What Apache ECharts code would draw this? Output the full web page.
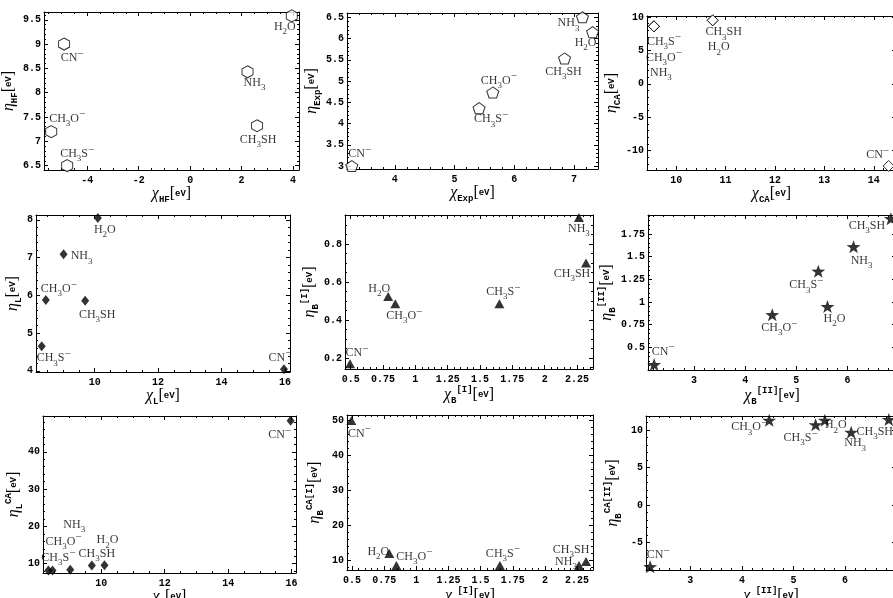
<!DOCTYPE html>
<html>
<head>
<meta charset="utf-8">
<script src="https://cdn.jsdelivr.net/npm/echarts@6/dist/echarts.min.js"></script>
<style>
html, body { margin: 0; padding: 0; background: #fff; }
#main { width: 893px; height: 598px; }
</style>
</head>
<body>
<div id="main"></div>
<script>
// order of the species in every array below
var species = ['CN-', 'CH3S-', 'CH3O-', 'NH3', 'H2O', 'CH3SH'];
var speciesLabel = ['CN{p|−}', 'CH{b|3}S{p|−}', 'CH{b|3}O{p|−}', 'NH{b|3}', 'H{b|2}O', 'CH{b|3}SH'];

var chiHF  = [-4.9, -4.78, -5.4, 2.23, 3.95, 2.6];
var etaHF  = [9.0, 6.5, 7.2, 8.43, 9.58, 7.32];
var chiExp = [3.28, 5.41, 5.64, 7.14, 7.31, 6.84];
var etaExp = [3.0, 4.36, 4.73, 6.5, 6.15, 5.53];
var chiCA  = [14.3, 9.55, 9.55, 9.55, 10.74, 10.74];
var etaCA  = [-12.3, 8.6, 8.6, 8.6, 9.5, 9.5];
var chiL   = [15.97, 8.33, 8.46, 9.02, 10.1, 9.7];
var etaL   = [4.04, 4.65, 5.88, 7.09, 8.05, 5.86];
var chiB1  = [0.495, 1.65, 0.845, 2.265, 0.79, 2.32];
var etaB1  = [0.17, 0.486, 0.486, 0.94, 0.524, 0.70];
var chiB2  = [2.22, 5.43, 4.53, 6.12, 5.61, 6.85];
var etaB2  = [0.31, 1.34, 0.86, 1.61, 0.95, 1.92];
var etaLCA  = [48.3, 8.2, 8.2, 8.4, 9.6, 9.5];
var etaB1CA = [50.0, 8.6, 8.6, 8.6, 12.0, 9.7];
var etaB2CA = [-8.2, 10.7, 11.3, 9.7, 11.3, 11.4];

// tick labels
var xTicksHF = [-4, -2, 0, 2, 4];
var yTicksHF = [6.5, 7, 7.5, 8, 8.5, 9, 9.5];
var xTicksExp = [4, 5, 6, 7];
var yTicksExp = [3, 3.5, 4, 4.5, 5, 5.5, 6, 6.5];
var xTicksCA = [10, 11, 12, 13, 14];
var yTicksCA = [-10, -5, 0, 5, 10];
var xTicksL = [10, 12, 14, 16];
var yTicksL = [4, 5, 6, 7, 8];
var xTicksB1 = [0.5, 0.75, 1, 1.25, 1.5, 1.75, 2, 2.25];
var yTicksB1 = [0.2, 0.4, 0.6, 0.8];
var xTicksB2 = [3, 4, 5, 6];
var yTicksB2 = [0.5, 0.75, 1, 1.25, 1.5, 1.75];
var yTicksLCA = [10, 20, 30, 40];
var yTicksB1CA = [10, 20, 30, 40, 50];
var yTicksB2CA = [-5, 0, 5, 10];

// label offsets (px from the marker), same species order
var offHF  = [[8, 14], [10, -12], [16, -13], [7, 11], [-7, 11], [1, 14]];
var offExp = [[8, -12], [12, 11], [6, -12], [-14, 6], [-7, 11], [-1, 13]];
var offCA  = [[-11, -11], [10, 15], [10, 31], [7, 46], [6, 27], [11, 12]];
var offL   = [[-4, -12], [12, 12], [13, -11], [18, 2], [7, 12], [12, 14]];
var offB1  = [[7, -11], [4, -12], [9, 12], [0, 11], [-9, -8], [-14, 11]];
var offB2  = [[9, -13], [-12, 14], [7, 13], [8, 14], [7, 12], [-24, 7]];
var offLCA = [[-11, 14], [10, -13], [11, -29], [4, -45], [3, -25], [5, -12]];
var offB1CA = [[8, 13], [3, -12], [18, -9], [-13, -4], [-11, -2], [-15, -12]];
var offB2CA = [[8, -12], [-15, 13], [-20, 7], [4, 11], [11, 5], [-14, 12]];

var hexagon = 'path://M6,0 L11.2,3 L11.2,9 L6,12 L0.8,9 L0.8,3 Z';
var pentagon = 'path://M10,0 L19.5,6.9 L15.9,18.1 L4.1,18.1 L0.5,6.9 Z';
var star = 'path://M10,0 L12.35,6.76 L19.51,6.91 L13.8,11.24 L15.88,18.09 L10,14 L4.12,18.09 L6.2,11.24 L0.49,6.91 L7.65,6.76 Z';

var open = { color: '#fff', borderColor: '#000', borderWidth: 1 };
var filled = { color: '#000' };

function axName(g, sub, sup) {
  return '{g|' + g + '}{s|' + sub + '}' + (sup ? '{u|' + sup + '}' : '') + '{k|[}{e|eV}{k|]}';
}

// yg = gap between frame and the rotated y title
var panels = [
  { box: [44, 12, 299, 170], x: chiHF, y: etaHF, xr: [-5.68, 4.23], yr: [6.41, 9.66], xt: xTicksHF, yt: yTicksHF, xm: 0.5, ym: 0.1,
    xn: axName('χ', 'HF'), yn: axName('η', 'HF'), yg: 18, sym: hexagon, size: [11, 12], st: open, off: offHF },
  { box: [347, 13, 598, 169], x: chiExp, y: etaExp, xr: [3.2, 7.4], yr: [2.93, 6.6], xt: xTicksExp, yt: yTicksExp, xm: 0.2, ym: 0.1,
    xn: axName('χ', 'Exp'), yn: axName('η', 'Exp'), yg: 19, sym: pentagon, size: [12, 11], st: open, off: offExp },
  { box: [647, 16, 896, 170], x: chiCA, y: etaCA, xr: [9.41, 14.45], yr: [-12.9, 10.15], xt: xTicksCA, yt: yTicksCA, xm: 0.2, ym: 1,
    xn: axName('χ', 'CA'), yn: axName('η', 'CA'), yg: 19, sym: 'diamond', size: [11, 11], st: open, off: offCA },
  { box: [36, 215, 290, 372], x: chiL, y: etaL, xr: [8.15, 16.16], yr: [3.97, 8.13], xt: xTicksL, yt: yTicksL, xm: 0.5, ym: 0.2,
    xn: axName('χ', 'L'), yn: axName('η', 'L'), yg: 11, sym: 'diamond', size: [8, 10], st: filled, off: offL },
  { box: [345, 215, 593, 369], x: chiB1, y: etaB1, xr: [0.456, 2.374], yr: [0.143, 0.953], xt: xTicksB1, yt: yTicksB1, xm: 0.05, ym: 0.05,
    xn: axName('χ', 'B', '[I]'), yn: axName('η', 'B', '[I]'), yg: 21, sym: 'triangle', size: [10, 9], st: filled, off: offB1 },
  { box: [648, 215, 896, 370], x: chiB2, y: etaB2, xr: [2.1, 6.95], yr: [0.25, 1.96], xt: xTicksB2, yt: yTicksB2, xm: 0.2, ym: 0.05,
    xn: axName('χ', 'B', '[II]'), yn: axName('η', 'B', '[II]'), yg: 25, sym: star, size: [14, 13], st: filled, off: offB2 },
  { box: [43, 416, 296, 573], x: chiL, y: etaLCA, xr: [8.16, 16.14], yr: [7.5, 49.6], xt: xTicksL, yt: yTicksLCA, xm: 0.5, ym: 2,
    xn: axName('χ', 'L'), yn: axName('η', 'L', 'CA'), yg: 16, sym: 'diamond', size: [8, 10], st: filled, off: offLCA },
  { box: [347, 415, 593, 570], x: chiB1, y: etaB1CA, xr: [0.461, 2.374], yr: [7.3, 51.6], xt: xTicksB1, yt: yTicksB1CA, xm: 0.05, ym: 2,
    xn: axName('χ', 'B', '[I]'), yn: axName('η', 'B', 'CA[I]'), yg: 22, sym: 'triangle', size: [10, 9], st: filled, off: offB1CA },
  { box: [646, 416, 896, 570], x: chiB2, y: etaB2CA, xr: [2.14, 6.99], yr: [-8.64, 11.87], xt: xTicksB2, yt: yTicksB2CA, xm: 0.2, ym: 1,
    xn: axName('χ', 'B', '[II]'), yn: axName('η', 'B', 'CA[II]'), yg: 23, sym: star, size: [14, 13], st: filled, off: offB2CA }
];

var nameRich = {
  g: { fontFamily: 'Liberation Serif', fontStyle: 'italic', fontSize: 16, lineHeight: 20, color: '#000' },
  s: { fontFamily: 'Liberation Mono', fontWeight: 'bold', fontSize: 9, lineHeight: 6, verticalAlign: 'bottom', color: '#000' },
  u: { fontFamily: 'Liberation Mono', fontWeight: 'bold', fontSize: 9, lineHeight: 6, verticalAlign: 'top', color: '#000' },
  k: { fontFamily: 'Liberation Serif', fontSize: 16, lineHeight: 20, color: '#000' },
  e: { fontFamily: 'Liberation Mono', fontWeight: 'bold', fontSize: 9, lineHeight: 20, color: '#000' }
};

var pointRich = {
  b: { fontFamily: 'Liberation Serif', fontSize: 9, lineHeight: 6, verticalAlign: 'bottom', color: '#000' },
  p: { fontFamily: 'Liberation Serif', fontSize: 11, lineHeight: 6, verticalAlign: 'top', color: '#000' }
};

function minors(r, step) {
  var out = [];
  for (var k = Math.ceil(r[0] / step - 1e-9); k * step <= r[1] + 1e-9; k++) {
    out.push(+(k * step).toFixed(6));
  }
  return out;
}

function axis(gi, pos, r, ticks, len, major, name, gap) {
  var vertical = pos === 'left' || pos === 'right';
  var a = {
    type: 'value', gridIndex: gi, position: pos, min: r[0], max: r[1],
    axisLine: { show: major, onZero: false, lineStyle: { color: '#000', width: 1 } },
    axisTick: { show: true, inside: true, length: len, customValues: ticks, lineStyle: { color: '#000', width: 1 } },
    axisLabel: { show: false },
    splitLine: { show: false }
  };
  if (name) {
    a.axisLabel = {
      show: true, customValues: ticks, color: '#000', fontFamily: 'Liberation Mono', fontWeight: 'bold',
      fontSize: 10, margin: vertical ? 3 : 5,
      formatter: function (v) { return String(v); }
    };
    a.name = name;
    a.nameLocation = 'middle';
    a.nameGap = gap;
    if (vertical) a.nameRotate = 90;
    a.nameTextStyle = { rich: nameRich };
  }
  return a;
}

var grid = [], xAxis = [], yAxis = [], series = [];

panels.forEach(function (p, gi) {
  grid.push({
    left: p.box[0], top: p.box[1], width: p.box[2] - p.box[0], height: p.box[3] - p.box[1],
    containLabel: false, outerBoundsMode: 'none'
  });
  var xi = xAxis.length, yi = yAxis.length;
  var xMinor = minors(p.xr, p.xm), yMinor = minors(p.yr, p.ym);
  xAxis.push(axis(gi, 'bottom', p.xr, p.xt, 4, true, p.xn, 10));
  xAxis.push(axis(gi, 'top', p.xr, p.xt, 4, true));
  xAxis.push(axis(gi, 'bottom', p.xr, xMinor, 2, false));
  xAxis.push(axis(gi, 'top', p.xr, xMinor, 2, false));
  yAxis.push(axis(gi, 'left', p.yr, p.yt, 4, true, p.yn, p.yg));
  yAxis.push(axis(gi, 'right', p.yr, p.yt, 4, true));
  yAxis.push(axis(gi, 'left', p.yr, yMinor, 2, false));
  yAxis.push(axis(gi, 'right', p.yr, yMinor, 2, false));

  series.push({
    type: 'scatter',
    xAxisIndex: xi,
    yAxisIndex: yi,
    symbol: p.sym,
    symbolSize: p.size,
    itemStyle: p.st,
    clip: false,
    label: {
      show: true,
      position: 'inside',
      color: '#000',
      fontFamily: 'Liberation Serif',
      fontSize: 12,
      lineHeight: 19,
      formatter: function (params) { return speciesLabel[params.dataIndex]; },
      rich: pointRich
    },
    data: p.x.map(function (v, i) {
      return { name: species[i], value: [v, p.y[i]], label: { offset: p.off[i] } };
    })
  });
});

var chart = echarts.init(document.getElementById('main'));
chart.setOption({
  animation: false,
  backgroundColor: '#fff',
  grid: grid,
  xAxis: xAxis,
  yAxis: yAxis,
  series: series
});
</script>
</body>
</html>
